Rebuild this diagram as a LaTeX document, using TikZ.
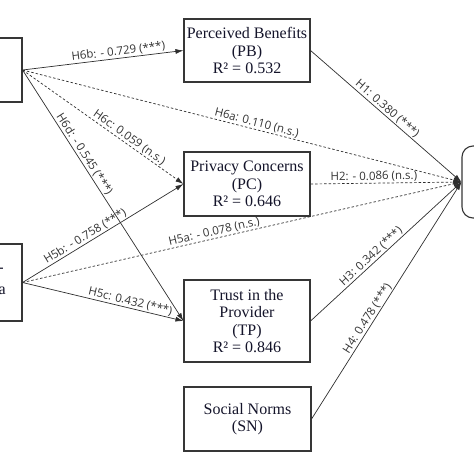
\documentclass[tikz,border=0pt]{standalone}
\usepackage{fontspec}
\setmainfont{Liberation Serif}
\newfontfamily\labelfont{Open Sans}
\usetikzlibrary{arrows.meta}
\definecolor{boxc}{HTML}{363636}
\definecolor{linec}{HTML}{2E2E2E}
\definecolor{labc}{HTML}{333333}
\definecolor{txtc}{HTML}{14142A}
\begin{document}
\begin{tikzpicture}[x=1pt,y=-1pt,
 box/.style={draw=boxc, line width=1.1pt, fill=white, align=center,
   font=\fontsize{16}{17.5}\selectfont, text=txtc, inner sep=0pt},
 conn/.style={draw=linec, line width=0.7pt, -{Latex[length=8pt,width=5pt]}},
 ns/.style={conn, dash pattern=on 2.5pt off 2pt},
 lab/.style={font=\labelfont\fontsize{11.5}{12}\selectfont, text=labc, sloped, above, inner sep=1pt}]
\useasboundingbox (0,0) rectangle (474,474);
\clip (0,0) rectangle (474,474);
% nodes
\node[box, minimum width=42pt, minimum height=64pt] (L1) at (1,70) {};
\node[box, minimum width=42pt, minimum height=77pt] (L2) at (1,282.5) {};
\node[anchor=east, inner sep=0pt, text=txtc, font=\fontsize{16}{17.5}\selectfont] (L2a) at (4,270) {-};
\node[anchor=east, inner sep=0pt, text=txtc, font=\fontsize{16}{17.5}\selectfont] (L2b) at (6,291) {a};
\node[box, minimum width=126pt, minimum height=63pt] (PB) at (247,50.5) {Perceived Benefits\\(PB)\\R² = 0.532};
\node[box, minimum width=126pt, minimum height=64pt] (PC) at (247,184) {Privacy Concerns\\(PC)\\R² = 0.646};
\node[box, minimum width=126pt, minimum height=82pt] (TP) at (247,321) {Trust in the\\Provider\\(TP)\\R² = 0.846};
\node[box, minimum width=127pt, minimum height=64pt] (SN) at (247.5,419) {Social Norms\\(SN)};
\node[box, rounded corners=11pt, minimum width=30pt, minimum height=72pt] (R) at (477,182) {};
% connectors
\draw[conn] (L1.east) -- node[lab, pos=0.6] {H6b: - 0.729 (***)} (PB.west);
\draw[ns] (L1.east) -- node[lab, pos=0.53] {H6a: 0.110 (n.s.)} (R.west);
\draw[ns] (L1.east) -- node[lab, pos=0.64] {H6c: 0.059 (n.s.)} (PC.west);
\draw[conn] (L1.east) -- node[lab, pos=0.35] {H6d: - 0.545 (***)} (TP.west);
\draw[conn] (L2.east) -- node[lab, pos=0.41] {H5b: - 0.758 (***)} (PC.west);
\draw[ns] (L2.east) -- node[lab, pos=0.44] {H5a: - 0.078 (n.s.)} (R.west);
\draw[conn] (L2.east) -- node[lab, pos=0.66] {H5c: 0.432 (***)} (TP.west);
\draw[conn] (PB.east) -- node[lab, pos=0.48] {H1: 0.380 (***)} (R.west);
\draw[ns] (PC.east) -- node[lab, pos=0.42] {H2: - 0.086 (n.s.)} (R.west);
\draw[conn] (TP.east) -- node[lab, pos=0.43] {H3: 0.342 (***)} (R.west);
\draw[conn] (SN.east) -- node[lab, pos=0.41] {H4: 0.478 (***)} (R.west);
\end{tikzpicture}
\end{document}
